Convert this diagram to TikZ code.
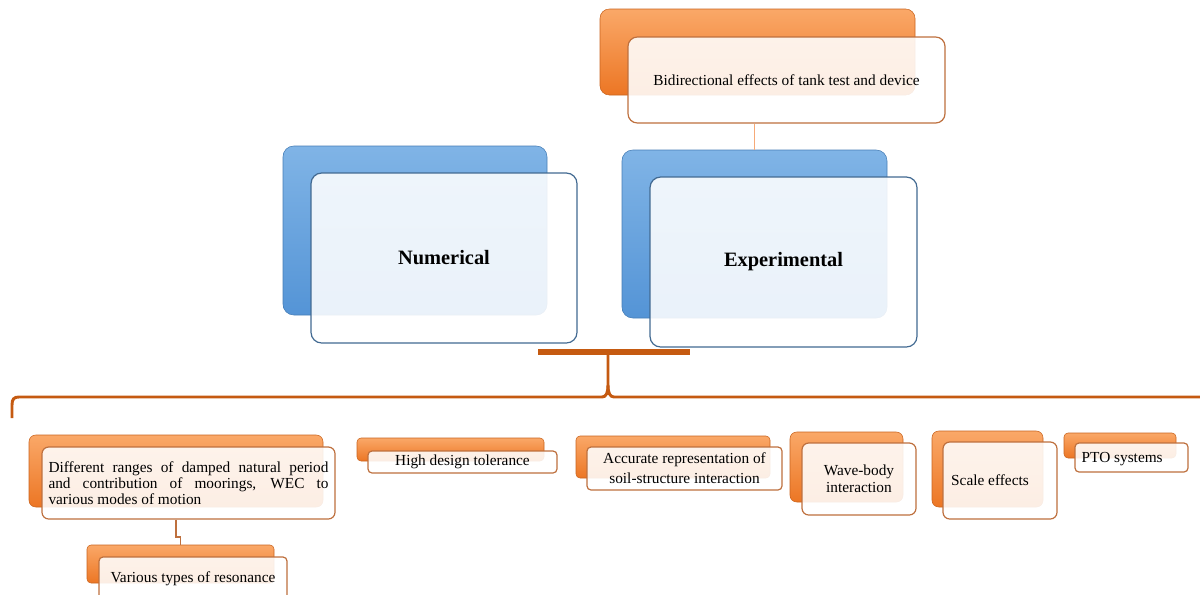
\documentclass[tikz,border=0pt]{standalone}
\usepackage{fontspec}
\setmainfont{Liberation Serif}

\definecolor{orangeA}{RGB}{250,168,104}
\definecolor{orangeB}{RGB}{236,118,36}
\definecolor{orangeline}{RGB}{190,112,62}
\definecolor{blueA}{RGB}{128,180,230}
\definecolor{blueB}{RGB}{84,148,214}
\definecolor{blueline}{RGB}{66,106,146}
\definecolor{bracecol}{RGB}{197,90,17}
\definecolor{linkcol}{RGB}{246,170,120}

\begin{document}
\begin{tikzpicture}[x=0.75pt,y=-0.75pt,
    orangeback/.style={rounded corners=5pt, draw=orangeB!85!black, line width=0.4pt,
        top color=orangeA, bottom color=orangeB, inner sep=0pt},
    orangefront/.style={rounded corners=5pt, draw=orangeline, line width=0.9pt,
        fill=white, fill opacity=0.88, text opacity=1, inner sep=0pt,
        font=\fontsize{11.5}{15}\selectfont, align=center},
    blueback/.style={rounded corners=8pt, draw=blueB!85!black, line width=0.4pt,
        top color=blueA, bottom color=blueB, inner sep=0pt},
    bluefront/.style={rounded corners=8pt, draw=blueline, line width=0.9pt,
        fill=white, fill opacity=0.88, text opacity=1, inner sep=0pt,
        font=\fontsize{15.3}{18}\selectfont\bfseries},
    smallback/.style={orangeback, rounded corners=3pt},
    smallfront/.style={orangefront, rounded corners=3pt},
    link/.style={line width=0.8pt}]

    \useasboundingbox (0,0) rectangle (1200,594);

    %% top box
    \node[orangeback, rounded corners=7pt, minimum width=236.25pt, minimum height=64.5pt] (topback) at (757.5,52) {};
    \node[orangefront, rounded corners=7pt, minimum width=237.75pt, minimum height=64.5pt] (topfront) at (786.5,80)
        {Bidirectional effects of tank test and device};

    %% Numerical
    \node[blueback, minimum width=198pt, minimum height=126.75pt] (numback) at (415,230.5) {};
    \node[bluefront, minimum width=199.5pt, minimum height=127.5pt] (numfront) at (444,258) {Numerical};

    %% Experimental
    \node[blueback, minimum width=198.75pt, minimum height=126pt] (expback) at (754.5,234) {};
    \node[bluefront, minimum width=200.25pt, minimum height=127.5pt] (expfront) at (783.5,262) {Experimental};

    \draw[link, linkcol] (expback.north |- topfront.south) -- (expback.north);

    %% brace
    \coordinate (barL) at (538,352);
    \coordinate (barR) at (690,352);
    \coordinate (tip) at (608,352);
    \coordinate (braceL) at (12,418);
    \coordinate (braceR) at (1205,397);
    \draw[bracecol, line width=3.8pt] (barL) -- (barR);
    \draw[bracecol, line width=2.2pt]
        (braceL) -- (12,405) .. controls (12,399) and (14,397) .. (19,397)
        -- (602,397) .. controls (606,397) and (608,393) .. (608,385) -- (tip);
    \draw[bracecol, line width=2.2pt]
        (608,385) .. controls (608,393) and (610,397) .. (614,397) -- (braceR);

    %% Different ranges
    \node[orangeback, minimum width=220.5pt, minimum height=54pt] (diffback) at (176,471) {};
    \node[orangefront, minimum width=219.75pt, minimum height=54pt] (difffront) at (188.5,483) {};
    \node[font=\fontsize{11.5}{12}\selectfont, text width=210pt, align=justify, inner sep=0pt]
        (difftext) at (difffront.center)
        {Different ranges of damped natural period\linebreak and contribution of moorings, WEC to\linebreak various modes of motion};

    %% Various types
    \node[smallback, minimum width=140.25pt, minimum height=28.5pt] (varback) at (180.5,564) {};
    \node[smallfront, minimum width=141pt, minimum height=32.25pt] (varfront) at (193,578.5) {Various types of resonance};
    \coordinate (jog) at (176,537);
    \draw[link, orangeline] (difffront.south -| jog) -- (jog) -| (varback.north);

    %% High design tolerance
    \node[smallback, minimum width=140.25pt, minimum height=17.25pt] (highback) at (450.5,449.5) {};
    \node[smallfront, minimum width=141.75pt, minimum height=16.5pt] (highfront) at (462.5,462) {High design tolerance};

    %% Accurate representation
    \node[smallback, minimum width=145.5pt, minimum height=31.5pt] (accback) at (673,457) {};
    \node[smallfront, minimum width=146.25pt, minimum height=32.25pt] (accfront) at (684.5,468.5)
        {Accurate representation of\\soil-structure interaction};

    %% Wave-body
    \node[orangeback, minimum width=84.75pt, minimum height=52.5pt] (waveback) at (846.5,467) {};
    \node[orangefront, font=\fontsize{11.5}{13}\selectfont, minimum width=85.5pt, minimum height=54pt] (wavefront) at (859,479)
        {Wave-body\\interaction};

    %% Scale effects
    \node[orangeback, minimum width=83.25pt, minimum height=57pt] (scaleback) at (987.5,469) {};
    \node[orangefront, minimum width=85.5pt, minimum height=57.75pt,
        label={[xshift=-7.5pt, font=\fontsize{11.5}{15}\selectfont]center:Scale effects}] (scalefront) at (1000,480.5) {};

    %% PTO
    \node[smallback, minimum width=84pt, minimum height=18.75pt] (ptoback) at (1120,445.5) {};
    \node[smallfront, minimum width=84.75pt, minimum height=21.75pt,
        label={[xshift=-7pt, yshift=-1.5pt, font=\fontsize{11.5}{15}\selectfont]center:PTO systems}] (ptofront) at (1131.5,457.5) {};

\end{tikzpicture}
\end{document}
